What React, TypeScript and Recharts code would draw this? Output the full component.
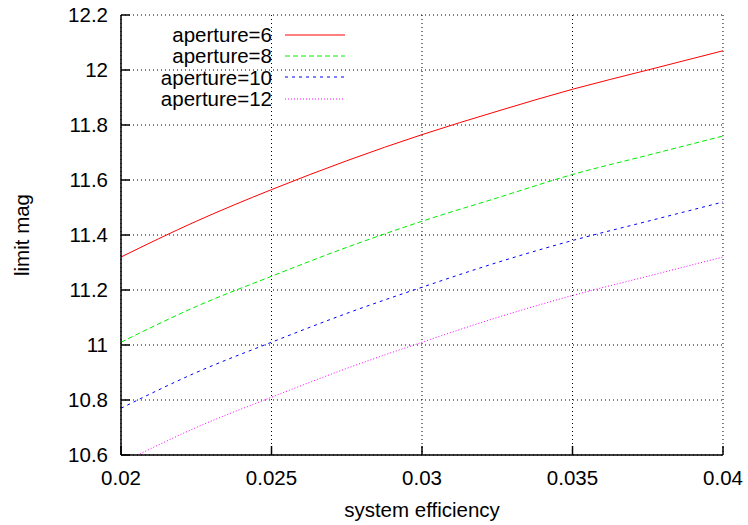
import { LineChart, Line, XAxis, YAxis, CartesianGrid } from "recharts";

// --- data ---
const efficiency = [0.02, 0.0225, 0.025, 0.0275, 0.03, 0.0325, 0.035, 0.0375, 0.04];
const aperture6 = [11.32, 11.45, 11.565, 11.67, 11.765, 11.85, 11.93, 12.0, 12.07];
const aperture8 = [11.01, 11.14, 11.25, 11.355, 11.45, 11.535, 11.62, 11.69, 11.76];
const aperture10 = [10.77, 10.9, 11.01, 11.115, 11.21, 11.3, 11.38, 11.45, 11.52];
const aperture12 = [10.57, 10.7, 10.81, 10.915, 11.01, 11.1, 11.18, 11.25, 11.32];

const xTicks = [0.02, 0.025, 0.03, 0.035, 0.04];
const yTicks = [10.6, 10.8, 11, 11.2, 11.4, 11.6, 11.8, 12, 12.2];

const series = [
  { key: "a6", name: "aperture=6", color: "#ff0000", dash: undefined },
  { key: "a8", name: "aperture=8", color: "#00ee00", dash: "5 3" },
  { key: "a10", name: "aperture=10", color: "#0000ff", dash: "3 4" },
  { key: "a12", name: "aperture=12", color: "#ff00ff", dash: "1 2" },
];

const data = efficiency.map((e, i) => ({
  eff: e,
  a6: aperture6[i],
  a8: aperture8[i],
  a10: aperture10[i],
  a12: aperture12[i],
}));

// layout (gnuplot-ish frame)
const W = 748;
const H = 525;
const LEFT = 121;
const TOP = 15;
const RIGHT = 723;
const BOTTOM = 455;
const TICK = 9;

const FONT = "'Liberation Sans', Arial, sans-serif";
const FS = 20.5;
const border = { stroke: "#000", strokeWidth: 1.5 };

// ticks point inwards like gnuplot, so they're drawn by hand
const BottomTick = ({ x, payload }: any) => (
  <g>
    <line x1={x} x2={x} y1={BOTTOM} y2={BOTTOM - TICK} stroke="#000" strokeWidth={1.5} />
    <text x={x} y={BOTTOM + 30} textAnchor="middle" fontSize={FS} fontFamily={FONT} fill="#000">
      {String(payload.value)}
    </text>
  </g>
);

const TopTick = ({ x }: any) => (
  <line x1={x} x2={x} y1={TOP} y2={TOP + TICK} stroke="#000" strokeWidth={1.5} />
);

const LeftTick = ({ y, payload }: any) => (
  <g>
    <line x1={LEFT} x2={LEFT + TICK} y1={y} y2={y} stroke="#000" strokeWidth={1.5} />
    <text x={LEFT - 13} y={y + 7.3} textAnchor="end" fontSize={FS} fontFamily={FONT} fill="#000">
      {String(payload.value)}
    </text>
  </g>
);

const RightTick = ({ y }: any) => (
  <line x1={RIGHT} x2={RIGHT - TICK} y1={y} y2={y} stroke="#000" strokeWidth={1.5} />
);

const Key = () => (
  <div style={{ position: "absolute", left: 140, top: 24, fontFamily: FONT, fontSize: FS }}>
    {series.map((s) => (
      <div key={s.key} style={{ display: "flex", alignItems: "center", height: 21.3 }}>
        <span style={{ width: 132, textAlign: "right", lineHeight: "21px" }}>{s.name}</span>
        <svg width={75} height={20}>
          <line x1={13} x2={73} y1={10} y2={10} stroke={s.color} strokeWidth={1} strokeDasharray={s.dash} />
        </svg>
      </div>
    ))}
  </div>
);

export default function App() {
  return (
    <div style={{ position: "absolute", left: 0, top: 0, width: W, height: H, background: "#fff" }}>
      <LineChart
        width={W}
        height={H}
        data={data}
        margin={{ top: TOP, right: W - RIGHT, left: 0, bottom: 0 }}
      >
        <CartesianGrid stroke="#000" strokeDasharray="1 3" strokeWidth={1} />
        <XAxis
          dataKey="eff"
          type="number"
          domain={[0.02, 0.04]}
          ticks={xTicks}
          allowDataOverflow
          height={H - BOTTOM}
          tickLine={false}
          axisLine={border}
          tick={<BottomTick />}
          label={{ value: "system efficiency", position: "insideBottom", offset: 8, style: { fill: "#000", fontSize: FS, fontFamily: FONT } }}
        />
        <XAxis
          xAxisId="top"
          dataKey="eff"
          type="number"
          orientation="top"
          domain={[0.02, 0.04]}
          ticks={xTicks}
          allowDataOverflow
          height={0}
          tickLine={false}
          axisLine={border}
          tick={<TopTick />}
        />
        <YAxis
          type="number"
          domain={[10.6, 12.2]}
          ticks={yTicks}
          allowDataOverflow
          width={LEFT}
          tickLine={false}
          axisLine={border}
          tick={<LeftTick />}
          label={{ value: "limit mag", angle: -90, position: "insideLeft", offset: 22, style: { textAnchor: "middle", fill: "#000", fontSize: FS, fontFamily: FONT } }}
        />
        <YAxis
          yAxisId="right"
          type="number"
          orientation="right"
          domain={[10.6, 12.2]}
          ticks={yTicks}
          allowDataOverflow
          width={0}
          tickLine={false}
          axisLine={border}
          tick={<RightTick />}
        />
        {series.map((s) => (
          <Line
            key={s.key}
            type="monotone"
            dataKey={s.key}
            stroke={s.color}
            strokeWidth={1}
            strokeDasharray={s.dash}
            dot={false}
            activeDot={false}
            isAnimationActive={false}
          />
        ))}
      </LineChart>
      <Key />
    </div>
  );
}
